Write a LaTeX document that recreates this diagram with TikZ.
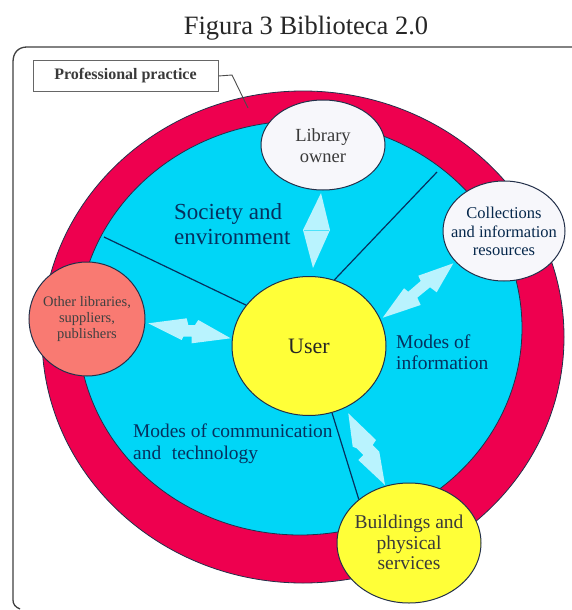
\documentclass[tikz,border=0pt]{standalone}
\usepackage{fontspec}
\setmainfont{Liberation Serif}
\usetikzlibrary{shapes.geometric}
\definecolor{ringred}{HTML}{EE004F}
\definecolor{seacyan}{HTML}{00D6F7}
\definecolor{sunyellow}{HTML}{FFFF38}
\definecolor{salmonred}{HTML}{F97A72}
\definecolor{paleshell}{HTML}{F7F7FB}
\definecolor{arrowpale}{HTML}{B9F3FE}
\definecolor{inkline}{HTML}{23304A}
\definecolor{navytext}{HTML}{06305E}
\definecolor{greytext}{HTML}{3A3A3A}
\newcommand\fitlabel[1]{\makebox[0pt]{\smash{\raisebox{\dimexpr-.25em-2.5pt\relax}{\begin{tabular}{@{}c@{}}#1\end{tabular}}}}}
\tikzset{
  disc/.style={ellipse,draw=inkline,line width=1pt,inner sep=0pt,align=center,text=greytext},
  spoke/.style={draw=navytext,line width=1.2pt},
  pale/.style={fill=arrowpale,draw=none},
  lab/.style={inner sep=0pt,align=left,anchor=west,text=navytext},
  fs/.style n args={2}{font=\fontsize{#1}{#2}\selectfont}
}
\begin{document}
\begin{tikzpicture}[x=1pt,y=-1pt]
\useasboundingbox (0,0) rectangle (572,610);
\fill[white] (0,0) rectangle (572,610);
\coordinate (frameA) at (572,47);
\coordinate (frameB) at (13,600);
\draw[line width=1.3pt,draw=black!75] (frameA) -- (27,47) .. controls (18,47) and (13,53) .. (13,62) -- (frameB) .. controls (13,604) and (15,607) .. (20,609);
\node[inner sep=0pt,text=black!85,fs={26.5}{28}] (title) at (306,28) {Figura 3 Biblioteca 2.0};
% rings
\node[ellipse,draw=inkline,line width=.8pt,fill=ringred,minimum width=522pt,minimum height=492pt,inner sep=0pt] (ring) at (303,337) {};
\node[ellipse,draw=inkline,line width=.8pt,fill=seacyan,minimum width=444pt,minimum height=414pt,inner sep=0pt] (sea) at (300,328) {};
% label box
\node[draw=black!60,line width=1pt,fill=white,minimum width=185pt,minimum height=30pt,inner sep=0pt,text=greytext,font=\bfseries\fontsize{16}{17}\selectfont] (practice) at (125.5,76) {\raisebox{2pt}{Professional practice}};
\coordinate (bendA) at (232,75);
\coordinate (bendB) at (248,108);
\draw[black!70,line width=.9pt] (practice.east) -- (bendA) -- (bendB);
% nodes
\node[disc,fill=sunyellow,minimum width=154pt,minimum height=139pt,fs={22}{24},text=black!85] (user) at (309,346) {User};
\coordinate (spokeNE) at (437,172);
\coordinate (spokeW) at (104,237);
\node[disc,fill=sunyellow,minimum width=144pt,minimum height=120pt,fs={19.5}{20.5}] (build) at (409,543) {\fitlabel{Buildings and\\physical\\services}};
\draw[spoke] (user.69.6) -- (spokeNE);
\draw[spoke] (user.147) -- (spokeW);
\draw[spoke] (user.-71.6) -- (build.139);
\node[disc,fill=paleshell,minimum width=124pt,minimum height=90pt,fs={18.5}{21}] (owner) at (323,145) {\fitlabel{Library\\owner}};
\node[disc,fill=paleshell,minimum width=122pt,minimum height=100pt,text=navytext!80!black,fs={16.5}{18.5}] (coll) at (504,231) {\fitlabel{Collections\\and information\\resources}};
\node[disc,fill=salmonred,minimum width=116pt,minimum height=114pt,text=black!75,fs={14.5}{16}] (other) at (87,319) {\raisebox{3.5pt}{\fitlabel{Other libraries,\\suppliers,\\publishers}}};
% double arrows
\fill[pale] (321,193) -- (330,230) -- (313,268) -- (303,230) -- cycle;
\draw[seacyan!60!arrowpale,line width=.5pt] (304,230) -- (329,230);
\fill[pale] (453.3,263.3) -- (418.3,275.7) -- (420.7,281) -- (408.3,291.7) -- (404,288.3) -- (382.7,317.7) -- (420.7,305) -- (417.3,297.7) -- (430,287.3) -- (436.7,292.3) -- cycle;
\fill[pale] (148.3,323.3) -- (186.7,318.3) -- (188.3,325) -- (195,325) -- (198.3,320) -- (230.7,338.3) -- (191.7,343.3) -- (191.7,336.7) -- (183.3,336.7) -- (181.7,340) -- cycle;
\fill[pale] (348.3,413.3) -- (376,440) -- (372.7,445) -- (379.3,451.7) -- (385,485) -- (358.3,460) -- (363.3,455) -- (356.7,448.3) -- (352.7,446.7) -- cycle;
% region labels
\node[lab,fs={23}{24.5}] (society) at (174,224) {Society and\\environment};
\node[lab,fs={19.5}{21.5}] (modesinfo) at (396,352) {Modes of\\information};
\node[lab,fs={19.4}{22}] (modescomm) at (133,444) {Modes of communication\\and\hspace{.3em} technology};
\end{tikzpicture}
\end{document}
